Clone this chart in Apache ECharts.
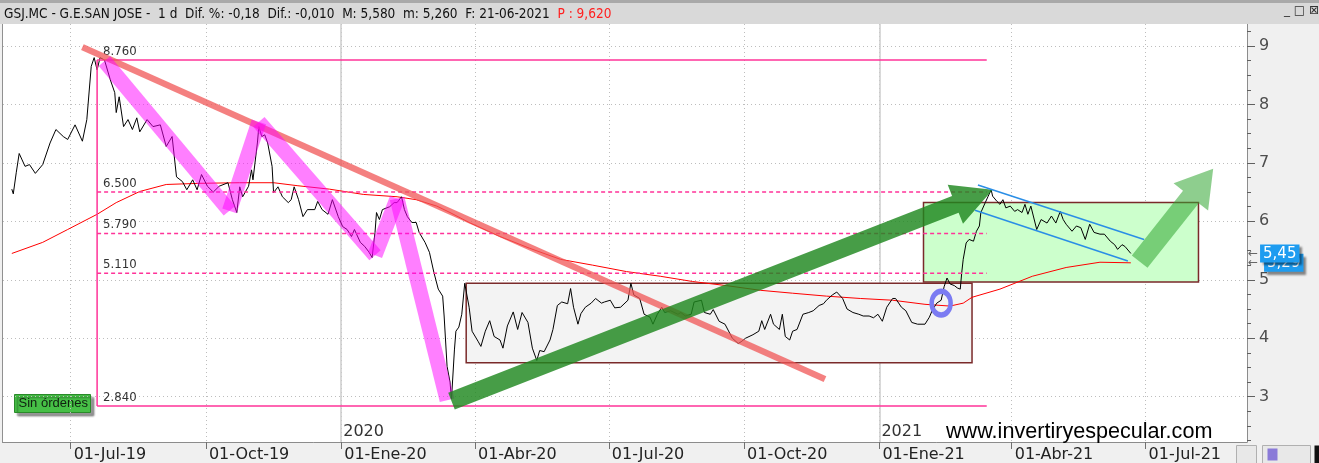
<!DOCTYPE html>
<html><head><meta charset="utf-8">
<script src="https://cdn.jsdelivr.net/npm/echarts@6/dist/echarts.min.js"></script>
<style>html,body{margin:0;padding:0;background:#fff;overflow:hidden}#c{width:1319px;height:463px}</style>
</head><body><div id="c"></div>
<script>
// ---------- DATA ----------
const priceDates = ['2019-05-22','2019-05-23','2019-05-25','2019-05-27','2019-05-29','2019-05-31','2019-06-03','2019-06-07','2019-06-12','2019-06-17','2019-06-21','2019-06-26','2019-06-29','2019-07-04','2019-07-09','2019-07-12','2019-07-15','2019-07-17','2019-07-19','2019-07-21','2019-07-24','2019-07-28','2019-07-31','2019-08-01','2019-08-03','2019-08-06','2019-08-09','2019-08-12','2019-08-15','2019-08-17','2019-08-22','2019-08-26','2019-08-31','2019-09-04','2019-09-08','2019-09-11','2019-09-15','2019-09-18','2019-09-22','2019-09-25','2019-09-28','2019-10-02','2019-10-06','2019-10-10','2019-10-16','2019-10-19','2019-10-22','2019-10-24','2019-10-26','2019-10-30','2019-11-01','2019-11-02','2019-11-05','2019-11-06','2019-11-08','2019-11-10','2019-11-12','2019-11-15','2019-11-16','2019-11-19','2019-11-22','2019-11-26','2019-11-28','2019-11-30','2019-12-03','2019-12-06','2019-12-09','2019-12-14','2019-12-16','2019-12-19','2019-12-23','2019-12-26','2019-12-30','2020-01-02','2020-01-05','2020-01-08','2020-01-10','2020-01-14','2020-01-17','2020-01-20','2020-01-22','2020-01-24','2020-01-25','2020-01-27','2020-01-29','2020-02-03','2020-02-06','2020-02-08','2020-02-11','2020-02-13','2020-02-15','2020-02-18','2020-02-21','2020-02-23','2020-02-27','2020-03-01','2020-03-04','2020-03-07','2020-03-10','2020-03-11','2020-03-13','2020-03-15','2020-03-16','2020-03-18','2020-03-19','2020-03-21','2020-03-23','2020-03-25','2020-03-26','2020-03-28','2020-03-30','2020-04-03','2020-04-05','2020-04-08','2020-04-11','2020-04-14','2020-04-18','2020-04-20','2020-04-23','2020-04-27','2020-04-30','2020-05-03','2020-05-07','2020-05-10','2020-05-13','2020-05-15','2020-05-18','2020-05-22','2020-05-24','2020-05-27','2020-05-30','2020-06-03','2020-06-05','2020-06-07','2020-06-10','2020-06-12','2020-06-15','2020-06-19','2020-06-22','2020-06-26','2020-06-28','2020-07-02','2020-07-05','2020-07-09','2020-07-14','2020-07-16','2020-07-18','2020-07-22','2020-07-25','2020-07-29','2020-07-31','2020-08-03','2020-08-06','2020-08-08','2020-08-12','2020-08-17','2020-08-19','2020-08-22','2020-08-26','2020-08-28','2020-09-02','2020-09-04','2020-09-08','2020-09-10','2020-09-14','2020-09-18','2020-09-23','2020-09-27','2020-09-29','2020-10-02','2020-10-07','2020-10-11','2020-10-13','2020-10-15','2020-10-19','2020-10-21','2020-10-25','2020-10-27','2020-10-29','2020-11-01','2020-11-03','2020-11-06','2020-11-10','2020-11-14','2020-11-17','2020-11-21','2020-11-24','2020-11-26','2020-11-30','2020-12-03','2020-12-07','2020-12-10','2020-12-14','2020-12-18','2020-12-21','2020-12-25','2020-12-28','2020-12-31','2021-01-03','2021-01-06','2021-01-10','2021-01-12','2021-01-16','2021-01-19','2021-01-23','2021-01-27','2021-02-01','2021-02-04','2021-02-06','2021-02-09','2021-02-12','2021-02-14','2021-02-16','2021-02-18','2021-02-21','2021-02-23','2021-02-25','2021-02-26','2021-02-27','2021-03-01','2021-03-03','2021-03-06','2021-03-08','2021-03-10','2021-03-11','2021-03-14','2021-03-16','2021-03-18','2021-03-19','2021-03-22','2021-03-24','2021-03-26','2021-03-28','2021-03-31','2021-04-03','2021-04-05','2021-04-08','2021-04-10','2021-04-12','2021-04-14','2021-04-18','2021-04-21','2021-04-25','2021-04-28','2021-05-01','2021-05-04','2021-05-06','2021-05-08','2021-05-12','2021-05-15','2021-05-18','2021-05-21','2021-05-24','2021-05-27','2021-05-31','2021-06-03','2021-06-07','2021-06-10','2021-06-12','2021-06-15','2021-06-17','2021-06-21'];
const priceValues = [6.55,6.47,6.83,7.16,7.05,6.94,6.97,6.82,6.97,7.34,7.57,7.45,7.40,7.65,7.37,7.74,8.65,8.80,8.59,8.80,8.76,8.42,8.20,7.86,8.13,7.62,7.74,7.57,7.77,7.53,7.74,7.62,7.65,7.28,7.45,6.76,6.68,6.54,6.71,6.54,6.80,6.60,6.50,6.60,6.66,6.37,6.15,6.59,6.42,6.60,6.88,6.71,7.34,7.62,7.45,7.48,7.34,6.94,6.49,6.59,6.42,6.32,6.37,6.59,6.37,6.08,6.20,6.20,6.34,6.20,6.12,6.37,6.08,5.91,5.86,5.74,5.86,5.64,5.57,5.47,5.38,5.81,6.15,6.03,6.20,6.25,6.32,6.32,6.42,6.20,6.08,5.98,5.98,5.81,5.64,5.47,5.13,4.84,4.72,4.38,3.52,3.25,2.96,3.80,4.12,4.19,4.41,4.94,4.94,4.53,4.12,3.95,3.86,4.12,4.30,4.03,3.97,3.83,4.21,4.45,4.15,4.44,4.27,3.83,3.62,3.79,3.77,3.97,4.15,4.56,4.62,4.59,4.85,4.53,4.24,4.42,4.53,4.60,4.68,4.60,4.62,4.65,4.52,4.53,4.65,4.94,4.74,4.68,4.41,4.36,4.24,4.41,4.53,4.44,4.47,4.41,4.44,4.38,4.41,4.62,4.65,4.44,4.41,4.49,4.29,4.24,4.00,3.91,3.94,4.00,4.06,4.12,4.30,4.15,4.41,4.24,4.15,4.41,4.03,3.97,4.12,4.15,4.41,4.44,4.47,4.56,4.59,4.65,4.74,4.79,4.68,4.50,4.44,4.41,4.38,4.38,4.35,4.41,4.29,4.53,4.68,4.68,4.53,4.47,4.27,4.24,4.24,4.36,4.48,4.60,4.65,4.88,5.03,4.93,4.90,4.86,4.84,5.12,5.35,5.63,5.69,5.66,5.83,5.92,6.15,6.32,6.43,6.54,6.43,6.34,6.29,6.37,6.23,6.26,6.17,6.20,6.15,6.29,6.12,6.26,5.86,6.03,5.97,6.09,5.97,6.17,6.03,5.95,5.83,5.92,5.89,5.69,5.95,5.81,5.78,5.78,5.66,5.60,5.52,5.60,5.57,5.45];
const maDates = ['2019-05-22','2019-06-12','2019-06-29','2019-07-19','2019-08-01','2019-08-17','2019-09-04','2019-09-27','2019-10-24','2019-11-16','2019-12-02','2019-12-24','2020-01-16','2020-02-08','2020-02-21','2020-03-06','2020-03-15','2020-03-28','2020-04-18','2020-05-08','2020-05-29','2020-06-20','2020-07-13','2020-08-05','2020-08-27','2020-09-19','2020-10-12','2020-11-03','2020-11-26','2020-12-19','2021-01-10','2021-02-01','2021-02-18','2021-02-27','2021-03-05','2021-03-24','2021-04-15','2021-05-08','2021-05-31','2021-06-21'];
const maValues = [5.45,5.64,5.86,6.12,6.32,6.51,6.63,6.65,6.66,6.66,6.61,6.55,6.46,6.42,6.37,6.26,6.15,5.98,5.74,5.54,5.35,5.25,5.14,5.06,4.97,4.90,4.82,4.77,4.72,4.68,4.65,4.58,4.55,4.60,4.70,4.84,5.06,5.21,5.30,5.29];
const tickDates = ['2019-07-01','2019-10-01','2020-01-01','2020-04-01','2020-07-01','2020-10-01','2021-01-01','2021-04-01','2021-07-01'];
const tickLabels = ['01-Jul-19','01-Oct-19','01-Ene-20','01-Abr-20','01-Jul-20','01-Oct-20','01-Ene-21','01-Abr-21','01-Jul-21'];
const yearDates = ['2020-01-01','2021-01-01'];
const yearLabels = ['2020','2021'];
const yTickValues = [3,4,5,6,7,8,9];
const yTickLabels = ['3','4','5','6','7','8','9'];
const xRange = ['2019-05-16','2021-09-08'];
const yRange = [2.225, 9.375];
const fiboLevels = [8.76, 6.5, 5.79, 5.11, 2.84];
const fiboLabels = ['8.760','6.500','5.790','5.110','2.840'];
const fiboRange = ['2019-07-19','2021-03-15'];
const trendLine = [['2019-07-09', 8.98], ['2020-11-25', 3.30]];
const zigzag = [['2019-07-24',8.74],['2019-10-17',6.18],['2019-11-06',7.70],['2020-01-24',5.42],['2020-02-08',6.39],['2020-03-13',2.94]];
const rangeBox = [['2020-03-26',4.94],['2021-03-05',3.58]];
const targetBox = [['2021-01-31',6.32],['2021-08-06',4.96]];
const bigArrow = [['2020-03-16',2.925],['2021-03-19',6.54]];
const smallArrow = [['2021-06-27',5.31],['2021-08-16',6.90]];
const channelUpper = [['2021-03-09',6.62],['2021-06-30',5.69]];
const channelLower = [['2021-03-07',6.19],['2021-06-19',5.32]];
const circleMark = ['2021-02-12', 4.60];
const lastPrice = 5.45;
const lastMA = 5.29;
const headerText = 'GSJ.MC - G.E.SAN JOSE -  1 d  Dif. %: -0,18  Dif.: -0,010  M: 5,580  m: 5,260  F: 21-06-2021  ';
const headerRed = 'P : 9,620';

// ---------- HELPERS ----------
const T = s => { const p = s.split('-').map(Number); return new Date(p[0], p[1]-1, p[2]).getTime(); };
const tickTs = tickDates.map(T);
const yearTs = yearDates.map(T);
const yMinor = [];
for (let k = 9; k <= 37; k++) { const v = k / 4; if (v % 1 !== 0) yMinor.push(v); }
const nearestLabel = (v, ts, labels) => { let best = -1, bd = 1e18; ts.forEach((t,i)=>{ const d=Math.abs(t-v); if(d<bd){bd=d;best=i;} }); return bd < 2*864e5 ? labels[best] : ''; };
const fmtComma = v => v.toFixed(2).replace('.', ',');
const NARROW = '"Liberation Sans Narrow", "DejaVu Sans Condensed", sans-serif';

function shapeSeries(name, z, build) {
  return { type: 'custom', name, z, silent: true, clip: false, xAxisIndex: 0, yAxisIndex: 0,
    data: [[T('2020-06-01'), 5]], encode: { x: 0, y: 1 },
    renderItem: (params, api) => ({ type: 'group', children: build(api) }) };
}
const C = (api, p) => api.coord([T(p[0]), p[1]]);

function arrowPoly(p1, p2, sw, hw, hl) {
  const dx = p2[0]-p1[0], dy = p2[1]-p1[1], L = Math.hypot(dx, dy);
  const ux = dx/L, uy = dy/L, nx = -uy, ny = ux;
  const bx = p2[0]-ux*hl, by = p2[1]-uy*hl;
  return [
    [p1[0]+nx*sw/2, p1[1]+ny*sw/2], [bx+nx*sw/2, by+ny*sw/2], [bx+nx*hw/2, by+ny*hw/2],
    [p2[0], p2[1]], [bx-nx*hw/2, by-ny*hw/2], [bx-nx*sw/2, by-ny*sw/2], [p1[0]-nx*sw/2, p1[1]-ny*sw/2]
  ];
}
function lastLabel(value, dx) {
  return { silent: true, symbol: ['none','none'], animation: false,
    lineStyle: { color: 'rgba(0,0,0,0)', width: 0 },
    data: [{ yAxis: value }],
    label: { show: true, position: 'end', distance: 1, formatter: '{a|←}{b|' + fmtComma(value) + '}',
      rich: { a: { color: '#666', fontSize: 12, fontFamily: 'DejaVu Sans', padding: [0, dx, 0, 0] },
              b: { backgroundColor: '#1e9cf0', color: '#ffffff', fontSize: 15, fontFamily: 'DejaVu Sans', padding: [2,3,1,3],
                   shadowColor: 'rgba(0,0,0,0.45)', shadowOffsetX: 3, shadowOffsetY: 3, shadowBlur: 2 } } } };
}

const chart = echarts.init(document.getElementById('c'), null, { renderer: 'canvas' });

const option = {
  animation: false,
  backgroundColor: '#f0f0f0',
  textStyle: { fontFamily: 'DejaVu Sans' },
  grid: { left: 3, right: 72, top: 24, bottom: 20, show: true, backgroundColor: '#ffffff', borderWidth: 0 },
  xAxis: [
    { type: 'value', min: T(xRange[0]), max: T(xRange[1]), position: 'bottom', scale: true,
      axisLine: { show: true, onZero: false, lineStyle: { color: '#8c8c8c', width: 1 } },
      axisTick: { show: true, customValues: tickTs, length: 7, lineStyle: { color: '#707070' } },
      axisLabel: { show: true, customValues: tickTs, formatter: v => nearestLabel(v, tickTs, tickLabels),
        align: 'left', padding: [0,0,0,3], margin: 5, fontSize: 16, color: '#222', fontFamily: 'DejaVu Sans' },
      splitLine: { show: true, lineStyle: { color: '#bdbdbd', type: [1,3], width: 1 } } },
    { type: 'value', min: T(xRange[0]), max: T(xRange[1]), position: 'bottom', scale: true,
      axisLine: { show: false, onZero: false },
      axisTick: { show: false, customValues: yearTs },
      axisLabel: { show: true, inside: true, customValues: yearTs, formatter: v => nearestLabel(v, yearTs, yearLabels),
        align: 'left', padding: [0,0,0,2], margin: 2, fontSize: 16, color: '#333', fontFamily: 'DejaVu Sans' },
      splitLine: { show: true, lineStyle: { color: '#cccccc', width: 1.5 } } }
  ],
  yAxis: [
    { type: 'value', position: 'right', min: yRange[0], max: yRange[1],
      axisLine: { show: true, lineStyle: { color: '#8c8c8c' } },
      axisTick: { show: true, customValues: yTickValues, length: 8, lineStyle: { color: '#606060' } },
      axisLabel: { show: true, customValues: yTickValues, formatter: v => { const i = yTickValues.indexOf(Math.round(v)); return i >= 0 ? yTickLabels[i] : ''; },
        margin: 12, fontSize: 16, color: '#4d4d4d', fontFamily: 'DejaVu Sans' },
      splitLine: { show: true, lineStyle: { color: '#bdbdbd', type: [1,3] } } },
    { type: 'value', position: 'right', min: yRange[0], max: yRange[1],
      axisLine: { show: false },
      axisTick: { show: true, customValues: yMinor, length: 4, lineStyle: { color: '#606060' } },
      axisLabel: { show: false }, splitLine: { show: false } }
  ],
  series: [
    shapeSeries('boxes', 1, api => {
      const mk = (b, fill) => { const a = C(api, b[0]), c = C(api, b[1]);
        return { type: 'rect', shape: { x: a[0], y: a[1], width: c[0]-a[0], height: c[1]-a[1] },
          style: { fill, stroke: '#7a2a2a', lineWidth: 1.5 } }; };
      return [mk(rangeBox, '#f3f3f3'), mk(targetBox, '#ccffcc')];
    }),
    { type: 'line', name: 'MA', z: 3, clip: false, symbol: 'none', showSymbol: false,
      data: maDates.map((d,i) => [T(d), maValues[i]]),
      lineStyle: { color: '#ff0000', width: 1 },
      markLine: lastLabel(lastMA, 6) },
    { type: 'line', name: 'Precio', z: 4, clip: false, symbol: 'none', showSymbol: false,
      data: priceDates.map((d,i) => [T(d), priceValues[i]]),
      lineStyle: { color: '#000000', width: 1 },
      markLine: lastLabel(lastPrice, 2) },
    shapeSeries('fibo', 5, api => {
      const ch = [];
      const x1 = api.coord([T(fiboRange[0]), 5])[0], x2 = api.coord([T(fiboRange[1]), 5])[0];
      fiboLevels.forEach((v, i) => {
        const y = api.coord([T(fiboRange[0]), v])[1];
        const dashed = i > 0 && i < fiboLevels.length - 1;
        ch.push({ type: 'line', shape: { x1, y1: y, x2, y2: y }, style: { stroke: '#ff3399', lineWidth: 1.5, lineDash: dashed ? [4,3] : null } });
        ch.push({ type: 'text', x: x1 + 6, y: y - 2, style: { text: fiboLabels[i], fill: '#333', font: '13px ' + NARROW, verticalAlign: 'bottom', align: 'left' } });
      });
      const yt = api.coord([T(fiboRange[0]), fiboLevels[0]])[1], yb = api.coord([T(fiboRange[0]), fiboLevels[4]])[1];
      ch.push({ type: 'line', shape: { x1, y1: yt, x2: x1, y2: yb }, style: { stroke: '#ff3399', lineWidth: 1.5 } });
      return ch;
    }),
    shapeSeries('trend', 6, api => {
      const a = C(api, trendLine[0]), b = C(api, trendLine[1]);
      return [{ type: 'line', shape: { x1: a[0], y1: a[1], x2: b[0], y2: b[1] }, style: { stroke: 'rgba(240,85,85,0.75)', lineWidth: 6.5, lineCap: 'butt' } }];
    }),
    shapeSeries('zigzag', 7, api => {
      const ch = [];
      for (let i = 0; i < zigzag.length - 1; i++) {
        const a = C(api, zigzag[i]), b = C(api, zigzag[i+1]);
        ch.push({ type: 'line', shape: { x1: a[0], y1: a[1], x2: b[0], y2: b[1] }, style: { stroke: 'rgba(255,0,255,0.5)', lineWidth: 15, lineCap: 'butt' } });
      }
      return ch;
    }),
    shapeSeries('arrows', 8, api => {
      const p1 = C(api, bigArrow[0]), p2 = C(api, bigArrow[1]);
      const q1 = C(api, smallArrow[0]), q2 = C(api, smallArrow[1]);
      return [
        { type: 'polygon', shape: { points: arrowPoly(p1, p2, 18, 42, 40) }, style: { fill: 'rgba(30,135,30,0.82)' } },
        { type: 'polygon', shape: { points: arrowPoly(q1, q2, 20, 44, 36) }, style: { fill: 'rgba(50,165,50,0.55)' } }
      ];
    }),
    shapeSeries('channel', 9, api => {
      const u1 = C(api, channelUpper[0]), u2 = C(api, channelUpper[1]);
      const l1 = C(api, channelLower[0]), l2 = C(api, channelLower[1]);
      const c = C(api, circleMark);
      return [
        { type: 'line', shape: { x1: u1[0], y1: u1[1], x2: u2[0], y2: u2[1] }, style: { stroke: '#2a8ee6', lineWidth: 1.5 } },
        { type: 'line', shape: { x1: l1[0], y1: l1[1], x2: l2[0], y2: l2[1] }, style: { stroke: '#2a8ee6', lineWidth: 1.5 } },
        { type: 'circle', x: c[0], y: c[1], scaleX: 1, scaleY: 1.25, shape: { cx: 0, cy: 0, r: 9.5 }, style: { fill: 'none', stroke: '#7b7bf2', lineWidth: 4.5 } }
      ];
    })
  ],
  graphic: [
    { type: 'rect', left: 0, top: 0, shape: { width: 1319, height: 24 }, style: { fill: '#d9d9d9' }, z: 50 },
    { type: 'rect', left: 0, top: 0, shape: { width: 1319, height: 3 }, style: { fill: '#a9a9a9' }, z: 51 },
    { type: 'text', left: 4, top: 7, z: 52, style: { text: '{a|' + headerText + '}{b|' + headerRed + '}',
      rich: { a: { fill: '#111', font: '13.5px ' + NARROW }, b: { fill: '#ff2020', font: '13.5px ' + NARROW } } } },
    { type: 'text', left: 1284, top: 5, z: 52, style: { text: '_ □ ⊠', fill: '#333', font: '12px "DejaVu Sans"' } },
    { type: 'line', shape: { x1: 2.5, y1: 24, x2: 2.5, y2: 443 }, style: { stroke: '#909090', lineWidth: 1 }, z: 52 },
    { type: 'group', left: 14, top: 394, z: 60, children: [
      { type: 'rect', shape: { x: 0, y: 0, width: 76, height: 18 }, style: { fill: '#46bf46', stroke: '#2a8a2a', lineWidth: 1, shadowColor: 'rgba(0,0,0,0.4)', shadowOffsetX: 3, shadowOffsetY: 3, shadowBlur: 2 } },
      { type: 'text', x: 4, y: 9, style: { text: 'Sin órdenes', font: '13px "Liberation Sans"', fill: '#102010', verticalAlign: 'middle' } }
    ] },
    { type: 'text', left: 946, top: 421, z: 60, style: { text: 'www.invertiryespecular.com', font: '21.6px "Liberation Sans"', fill: '#000' } },
    { type: 'group', left: 1236, top: 445, z: 60, children: [
      { type: 'rect', shape: { x: 0, y: 0, width: 20, height: 18 }, style: { fill: '#e8e8e8', stroke: '#b0b0b0' } },
      { type: 'rect', shape: { x: 26, y: 0, width: 48, height: 18 }, style: { fill: '#e8e8e8', stroke: '#b0b0b0' } },
      { type: 'rect', shape: { x: 31, y: 3, width: 10, height: 12 }, style: { fill: '#8a7ad8' } },
      { type: 'rect', shape: { x: 78, y: 0, width: 8, height: 18 }, style: { fill: '#111' } }
    ] }
  ]
};
chart.setOption(option);
</script></body></html>
